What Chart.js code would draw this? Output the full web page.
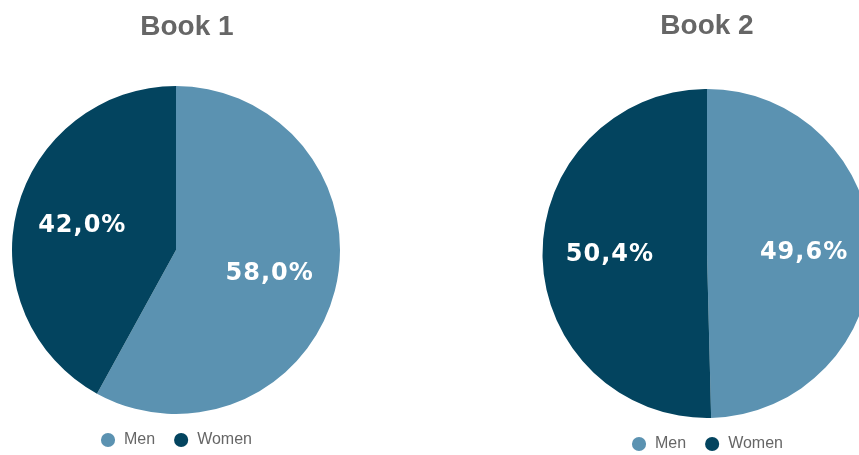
<!DOCTYPE html>
<html>
<head>
<meta charset="utf-8">
<script src="https://cdn.jsdelivr.net/npm/chart.js@4/dist/chart.umd.min.js"></script>
<style>
  html, body { margin: 0; padding: 0; background: #fff; }
  body { width: 859px; height: 455px; overflow: hidden; position: relative; }
  canvas { position: absolute; top: 0; }
  #book1 { left: 0; }
  #book2 { left: 531px; }
</style>
</head>
<body>
<canvas id="book1" width="352" height="458"></canvas>
<canvas id="book2" width="352" height="462"></canvas>
<script>
const categories = ['Men', 'Women'];
const book1Values = [58.0, 42.0];
const book2Values = [49.6, 50.4];
const bookTitles = ['\u2002 Book 1', 'Book 2'];
const sliceColors = ['#5b92b1', '#03445f'];

// percentage labels inside the slices
const sliceLabels = {
    id: 'sliceLabels',
    afterDatasetsDraw(chart) {
        const ctx = chart.ctx;
        const values = chart.data.datasets[0].data;
        const total = values.reduce((a, b) => a + b, 0);
        const meta = chart.getDatasetMeta(0);
        ctx.save();
        ctx.font = 'bold 24px "DejaVu Sans", sans-serif';
        ctx.letterSpacing = '1px';
        ctx.fillStyle = '#ffffff';
        ctx.textAlign = 'center';
        ctx.textBaseline = 'middle';
        meta.data.forEach((arc, i) => {
            const p = arc.getProps(['x', 'y', 'startAngle', 'endAngle', 'outerRadius'], true);
            const mid = (p.startAngle + p.endAngle) / 2;
            const r = p.outerRadius * 0.59;
            const txt = (values[i] / total * 100).toFixed(1).replace('.', ',') + '%';
            ctx.fillText(txt, p.x + Math.cos(mid) * r, p.y + Math.sin(mid) * r);
        });
        ctx.restore();
    }
};

function makePie(id, title, values, titlePad) {
    const ctx = document.getElementById(id).getContext('2d');
    return new Chart(ctx, {
        type: 'pie',
        data: {
            labels: categories,
            datasets: [{
                data: values,
                backgroundColor: sliceColors,
                borderColor: sliceColors,
                borderWidth: 0
            }]
        },
        options: {
            responsive: false,
            animation: false,
            layout: { padding: 0 },
            plugins: {
                title: {
                    display: true,
                    text: title,
                    color: '#666666',
                    font: { family: '"Liberation Sans", Arial, sans-serif', size: 28, weight: 'bold' },
                    padding: titlePad
                },
                legend: {
                    position: 'bottom',
                    labels: {
                        usePointStyle: true,
                        pointStyle: 'circle',
                        boxHeight: 10,
                        padding: 18,
                        color: '#666666',
                        font: { family: '"Liberation Sans", Arial, sans-serif', size: 16 }
                    }
                },
                tooltip: { enabled: false }
            }
        },
        plugins: [sliceLabels]
    });
}

window.onload = function () {
    makePie('book1', bookTitles[0], book1Values, { top: 10.2, bottom: 42.2 });
    makePie('book2', bookTitles[1], book2Values, { top: 9.2, bottom: 46.2 });
};
</script>
</body>
</html>
